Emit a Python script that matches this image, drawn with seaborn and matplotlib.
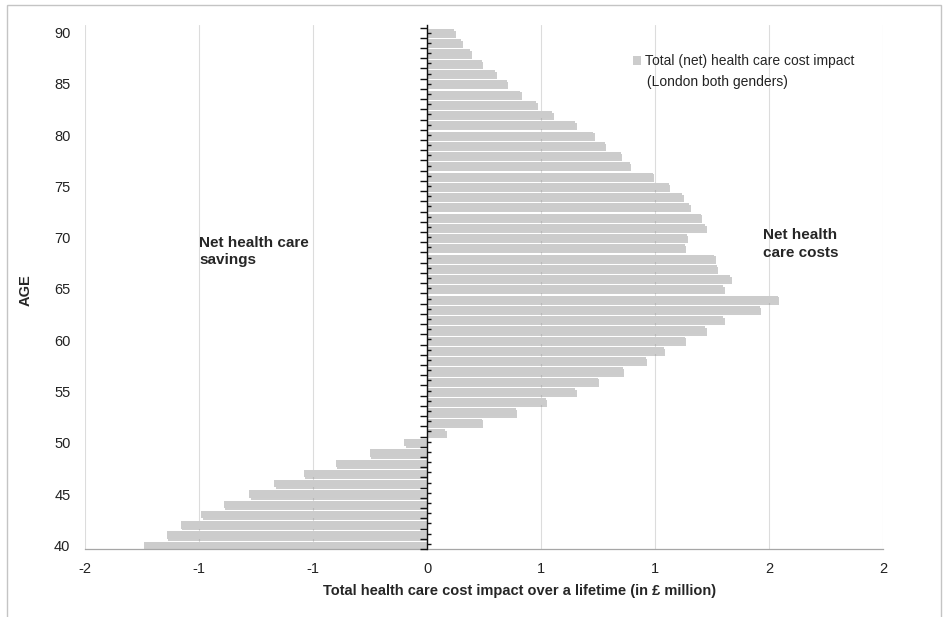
import numpy as np
import pandas as pd
import seaborn as sns
import matplotlib
matplotlib.use("Agg")
import matplotlib.pyplot as plt
import matplotlib.patheffects as pe
from matplotlib.patches import Patch, Rectangle

# %% data
ages = list(range(40, 91))
cost_impact = [-1.24, -1.14, -1.08, -0.99, -0.89, -0.78, -0.67, -0.54, -0.40, -0.25,
               -0.10, 0.08, 0.24, 0.39, 0.52, 0.65, 0.75, 0.86, 0.96, 1.04,
               1.13, 1.22, 1.30, 1.46, 1.54, 1.30, 1.33, 1.27, 1.26, 1.13,
               1.14, 1.22, 1.20, 1.15, 1.12, 1.06, 0.99, 0.89, 0.85, 0.78,
               0.73, 0.65, 0.55, 0.48, 0.41, 0.35, 0.30, 0.24, 0.19, 0.15,
               0.12]
xticks = [-1.5, -1.0, -0.5, 0.0, 0.5, 1.0, 1.5, 2.0]
xtick_labels = ["-2", "-1", "-1", "0", "1", "1", "2", "2"]  # excel rounding, 0 decimals
age_ticks = [40, 45, 50, 55, 60, 65, 70, 75, 80, 85, 90]

df = pd.DataFrame({"age": ages, "impact": cost_impact})

# %% plot
sns.set_style("white")
plt.rcParams["font.family"] = ["Liberation Sans", "DejaVu Sans"]

bar_col = "#cccccc"
fig = plt.figure(figsize=(9.48, 6.17), dpi=100)
ax = fig.add_axes([0.0897, 0.1102, 0.8417, 0.8493])

sns.barplot(data=df, x="impact", y="age", orient="h", native_scale=True,
            width=0.72, color=bar_col, saturation=1, errorbar=None,
            edgecolor="none", ax=ax)
for p in ax.patches:
    p.set_path_effects([pe.SimplePatchShadow(offset=(1, -1.3), shadow_rgbFace="#909090", alpha=0.45),
                        pe.Normal()])

ax.set_xlim(-1.5, 2.0)
ax.set_ylim(39.64, 90.75)

ax.set_xticks(xticks)
ax.set_xticklabels(xtick_labels)
ax.set_yticks(age_ticks)
ax.set_yticklabels([str(a) for a in age_ticks])
ax.tick_params(axis="y", length=0, pad=10.5, labelsize=10.5, colors="#222222")
ax.tick_params(axis="x", length=4, direction="out", color="#a6a6a6", width=0.8,
               pad=5, labelsize=10.5, labelcolor="#222222")
ax.xaxis.grid(True, color="#dcdcdc", lw=0.8)
ax.yaxis.grid(False)
ax.set_axisbelow(True)
for s in ["top", "right", "left"]:
    ax.spines[s].set_visible(False)
ax.spines["bottom"].set_color("#a6a6a6")
ax.spines["bottom"].set_linewidth(0.9)

ax.set_xlabel("Total health care cost impact over a lifetime (in £ million)",
              fontsize=10.5, fontweight="bold")
ax.xaxis.set_label_coords(0.5445, -0.0677)
ax.set_ylabel("AGE", fontsize=10.5, fontweight="bold")
ax.yaxis.set_label_coords(-0.0652, 0.494)

# vertical category axis sitting at x = 0
ax2 = ax.twinx()
ax2.set_ylim(ax.get_ylim())
for s in ["top", "right", "bottom"]:
    ax2.spines[s].set_visible(False)
ax2.spines["left"].set_visible(True)
ax2.spines["left"].set_position(("data", 0))
ax2.spines["left"].set_color("#111111")
ax2.spines["left"].set_linewidth(1)
ax2.yaxis.set_ticks_position("left")
ax2.set_yticks(np.arange(39.5, 91, 1))
ax2.set_yticks(ages, minor=True)
ax2.tick_params(axis="y", which="major", direction="out", length=5, width=1,
                color="#111111", labelleft=False, labelright=False)
ax2.tick_params(axis="y", which="minor", direction="in", length=3, width=1,
                color="#111111", labelleft=False, labelright=False)
ax2.grid(False)

# legend + annotations
ax.legend(handles=[Patch(facecolor=bar_col, edgecolor="none")],
          labels=["Total (net) health care cost impact"], frameon=False,
          loc="upper left", bbox_to_anchor=(0.6863, 0.944), borderpad=0,
          borderaxespad=0, handlelength=0.6, handleheight=0.6,
          handletextpad=0.3, fontsize=10)
ax.text(0.6987, 0.884, " (London both genders)", transform=ax.transAxes,
        fontsize=10, va="baseline", ha="left", color="#222222")

ax.text(0.143, 0.597, "Net health care\nsavings", transform=ax.transAxes,
        fontsize=11, fontweight="bold", va="top", ha="left", linespacing=1.3)
ax.text(0.850, 0.612, "Net health\ncare costs", transform=ax.transAxes,
        fontsize=11, fontweight="bold", va="top", ha="left", linespacing=1.3)

# light frame around the chart area
fig.patches.append(Rectangle((7 / 948, -0.05), 934 / 948, 1 - 5 / 617 + 0.05,
                             transform=fig.transFigure, fill=False,
                             edgecolor="#c4c4c4", lw=1))

fig.savefig("out.png", dpi=100)
